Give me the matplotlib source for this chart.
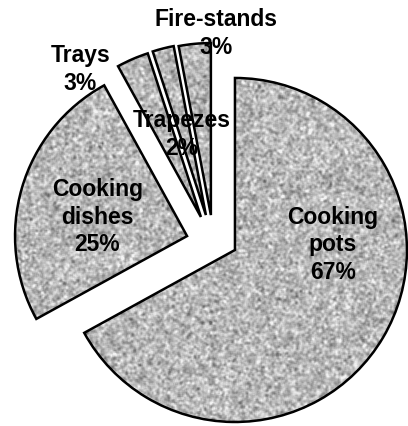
import numpy as np
import matplotlib
matplotlib.use('Agg')
import matplotlib.pyplot as plt

# Daten
names = ['Cooking\npots', 'Cooking\ndishes', 'Trays', 'Trapezes', 'Fire-stands']
shares = [67, 25, 3, 2, 3]

# Layout (Dateneinheiten, Radius = 1)
explode = [0.0, 0.29, 0.0, 0.0, 0.0]
extra_shift = [None, None, (-0.198, 0.192), (-0.169, 0.203), (-0.140, 0.203)]
label_pos = [(0.57, 0.03), (-0.80, 0.19), (-0.90, 1.05), (-0.31, 0.67), (-0.11, 1.26)]
FS = 16.5

fig = plt.figure(figsize=(4.08, 4.26), dpi=100)
ax = fig.add_axes([0, 0, 1, 1])

wedges, _ = ax.pie(shares, explode=explode, startangle=90, counterclock=False,
                   radius=1.0, frame=True,
                   wedgeprops=dict(facecolor='none', edgecolor='black', linewidth=1.8))
ax.set_xlim(-1.366, 1.006)
ax.set_ylim(-1.023, 1.453)
ax.set_aspect('equal')
ax.axis('off')

for w, s in zip(wedges, extra_shift):
    if s is not None:
        w.set_center(s)

# Granit-Textur
rng = np.random.default_rng(7)
H, W = 426, 408

def blur(a, k):
    out = np.zeros_like(a)
    for dy in range(-k, k + 1):
        for dx in range(-k, k + 1):
            out += np.roll(np.roll(a, dy, axis=0), dx, axis=1)
    return out / (2 * k + 1) ** 2

small = rng.normal(size=(H // 2 + 1, W // 2 + 1))
small = np.repeat(np.repeat(small, 2, axis=0), 2, axis=1)[:H, :W]
mid = blur(small, 1)
fine = blur(rng.normal(size=(H, W)), 1)
tex = 0.72 + 0.08 * mid / mid.std() + 0.03 * fine / fine.std()
tex = np.clip(tex, 0.4, 0.95)

x0, x1 = ax.get_xlim()
y0, y1 = ax.get_ylim()
for w in wedges:
    im = ax.imshow(tex, cmap='gray', vmin=0, vmax=1, extent=[x0, x1, y0, y1],
                   interpolation='bilinear', zorder=1)
    im.set_clip_path(w)
    w.set_zorder(2)

ax.set_xlim(x0, x1)
ax.set_ylim(y0, y1)

for name, val, (tx, ty) in zip(names, shares, label_pos):
    ax.text(tx, ty, f'{name}\n{val}%', ha='center', va='center', fontsize=FS,
            fontweight='bold', family='Liberation Sans', linespacing=1.25, zorder=5)

fig.savefig('out.png', dpi=100)
